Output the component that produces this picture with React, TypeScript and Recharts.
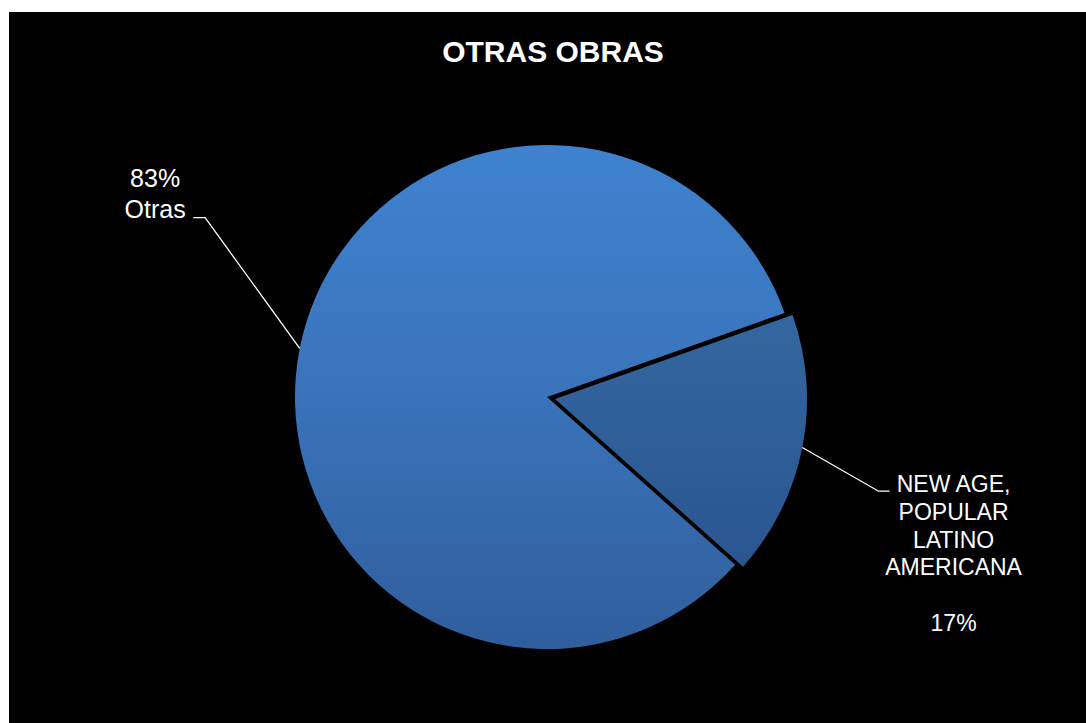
import React from "react";
import { PieChart, Pie, Cell } from "recharts";

const title = "OTRAS OBRAS";
const categories = ["Otras", "NEW AGE, POPULAR LATINO AMERICANA"];
const values = [83, 17];
const percentLabels = ["83%", "17%"];
const newAgeLines = ["NEW AGE,", "POPULAR", "LATINO", "AMERICANA"];

const data = categories.map((name, i) => ({ name, value: values[i] }));

const RAD = Math.PI / 180;
const FONT = "'Liberation Sans', Arial, sans-serif";

function edge(p: any) {
  const a = -p.midAngle * RAD;
  return {
    x: p.cx + p.outerRadius * Math.cos(a),
    y: p.cy + p.outerRadius * Math.sin(a),
  };
}

const renderOtras = (p: any) => {
  if (p.index !== 0) return null;
  const e = edge(p);
  return (
    <g>
      <polyline
        points={`${e.x},${e.y} ${e.x - 94.6},${e.y - 130.9} ${e.x - 106.6},${e.y - 130.9}`}
        fill="none"
        stroke="#ffffff"
        strokeWidth={1.3}
      />
      <text x={e.x - 144.6} y={e.y - 161.6} textAnchor="middle" fill="#fff" fontSize={25} fontFamily={FONT}>
        {percentLabels[0]}
      </text>
      <text x={e.x - 144.6} y={e.y - 130.6} textAnchor="middle" fill="#fff" fontSize={25} fontFamily={FONT}>
        {categories[0]}
      </text>
    </g>
  );
};

const renderNewAge = (p: any) => {
  if (p.index !== 1) return null;
  const e = edge(p);
  const dys = [44.7, 72.4, 100.4, 127.4];
  return (
    <g>
      <polyline
        points={`${e.x},${e.y} ${e.x + 76.3},${e.y + 43.7} ${e.x + 87.3},${e.y + 43.7}`}
        fill="none"
        stroke="#ffffff"
        strokeWidth={1.3}
      />
      {newAgeLines.map((t, i) => (
        <text key={t} x={e.x + 151.3} y={e.y + dys[i]} textAnchor="middle" fill="#fff" fontSize={23} fontFamily={FONT}>
          {t}
        </text>
      ))}
      <text x={e.x + 151.3} y={e.y + 183} textAnchor="middle" fill="#fff" fontSize={23} fontFamily={FONT}>
        {percentLabels[1]}
      </text>
    </g>
  );
};

export default function App() {
  return (
    <div style={{ position: "absolute", left: 9, top: 12, width: 1077, height: 711, background: "#000" }}>
      <PieChart width={1077} height={711} margin={{ top: 0, right: 0, bottom: 0, left: 0 }}>
        <defs>
          <linearGradient id="gBig" x1="0" y1="0" x2="0" y2="1">
            <stop offset="0%" stopColor="#3f82cf" />
            <stop offset="50%" stopColor="#3a73ba" />
            <stop offset="100%" stopColor="#2f5e9d" />
          </linearGradient>
          <linearGradient id="gSmall" x1="0" y1="0" x2="0" y2="1">
            <stop offset="0%" stopColor="#34679f" />
            <stop offset="100%" stopColor="#2a5590" />
          </linearGradient>
        </defs>
        <text x={544} y={49.7} textAnchor="middle" fill="#fff" fontSize={30} fontWeight="bold" fontFamily={FONT}>
          {title}
        </text>
        <Pie
          data={data}
          dataKey="value"
          nameKey="name"
          cx={538}
          cy={385}
          outerRadius={252}
          startAngle={19.5}
          endAngle={379.5}
          stroke="none"
          isAnimationActive={false}
          label={renderOtras}
          labelLine={false}
        >
          <Cell fill="url(#gBig)" />
          <Cell fill="none" />
        </Pie>
        <Pie
          data={data}
          dataKey="value"
          nameKey="name"
          cx={546}
          cy={387}
          outerRadius={252}
          startAngle={19.5}
          endAngle={379.5}
          stroke="none"
          isAnimationActive={false}
          label={renderNewAge}
          labelLine={false}
        >
          <Cell fill="none" />
          <Cell fill="url(#gSmall)" />
        </Pie>
      </PieChart>
    </div>
  );
}
